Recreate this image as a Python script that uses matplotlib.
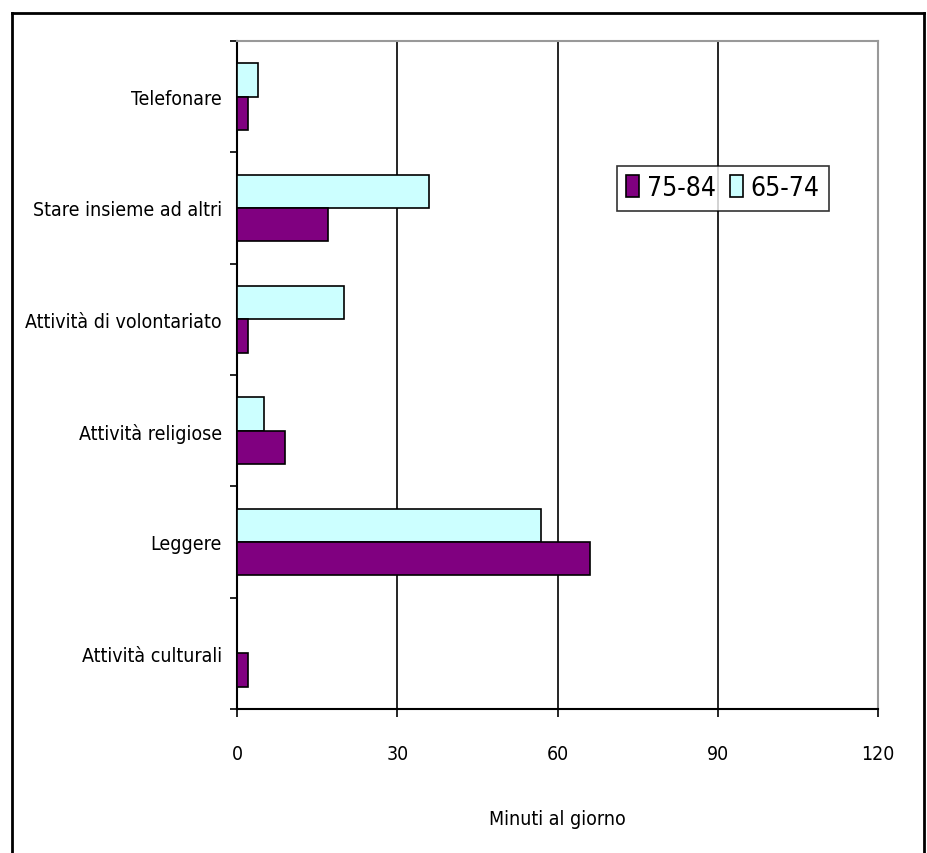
import matplotlib.pyplot as plt
from matplotlib.lines import Line2D
import numpy as np

# categories, top to bottom
categories = ["Telefonare", "Stare insieme ad altri", "Attività di volontariato",
              "Attività religiose", "Leggere", "Attività culturali"]
eta_65_74 = [4, 36, 20, 5, 57, 0]
eta_75_84 = [2, 17, 2, 9, 66, 2]
xticks = [0, 30, 60, 90, 120]

plt.rcParams["font.family"] = ["DejaVu Sans"]
plt.rcParams["font.stretch"] = "condensed"

fig = plt.figure(figsize=(9.27, 8.54), dpi=100)
ax = fig.add_axes([237 / 927, 1 - 710 / 854, 641 / 927, 668 / 854])

y = np.arange(len(categories))
h = 0.3
ax.barh(y - h / 2, eta_65_74, height=h, color="#CCFFFF", edgecolor="black",
        linewidth=1.2, label="65-74", zorder=3)
ax.barh(y + h / 2, eta_75_84, height=h, color="#800080", edgecolor="black",
        linewidth=1.2, label="75-84", zorder=3)

ax.set_xlim(0, 120)
ax.set_ylim(len(categories) - 0.5, -0.5)
ax.set_xticks(xticks)
ax.set_xticklabels([str(t) for t in xticks], fontsize=14)
ax.set_yticks(y)
ax.set_yticklabels(categories, fontsize=14)
ax.set_yticks(np.arange(len(categories) + 1) - 0.5, minor=True)
ax.tick_params(axis="y", which="major", length=0, pad=11)
ax.tick_params(axis="y", which="minor", length=5, width=1.2, direction="out")
ax.tick_params(axis="x", length=6, width=1.2, direction="out", pad=19)

ax.grid(axis="x", color="black", linewidth=1.2, zorder=0)
for s in ["top", "right"]:
    ax.spines[s].set_color("#999999")
    ax.spines[s].set_linewidth(1.5)
for s in ["left", "bottom"]:
    ax.spines[s].set_linewidth(1.5)

ax.set_xlabel("Minuti al giorno", fontsize=14, labelpad=33)

handles, labels = ax.get_legend_handles_labels()
leg = ax.legend(handles[::-1], labels[::-1], ncol=2, fontsize=19,
                loc="upper left", bbox_to_anchor=(380 / 641, 1 - 125 / 668),
                frameon=True, fancybox=False, edgecolor="black",
                handlelength=0.5, handleheight=0.9, handletextpad=0.3,
                columnspacing=0.5, borderpad=0.35, borderaxespad=0)
leg.get_frame().set_linewidth(1.2)

# outer frame (cut at the bottom)
x0, x1, yt = 12 / 927, 924 / 927, 1 - 14 / 854
for xs, ys in [([x0, x0], [0, yt]), ([x0, x1], [yt, yt]), ([x1, x1], [yt, 0])]:
    fig.add_artist(Line2D(xs, ys, color="black", linewidth=2,
                          transform=fig.transFigure))

fig.savefig("out.png", dpi=100)
